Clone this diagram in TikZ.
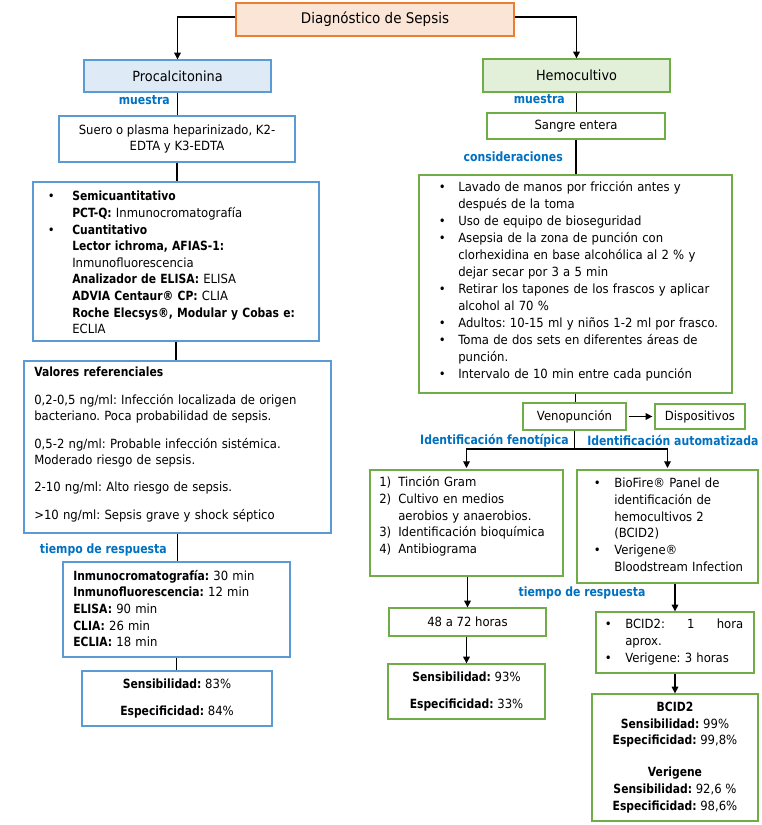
\documentclass[tikz,border=0pt]{standalone}
\usepackage{fontspec}
\setmainfont{DejaVu Sans}[FakeStretch=0.92, BoldFeatures={FakeStretch=0.85}]
\usetikzlibrary{arrows.meta}
\definecolor{orF}{HTML}{FBE5D6}
\definecolor{orB}{HTML}{ED7D31}
\definecolor{blF}{HTML}{DEEBF7}
\definecolor{blB}{HTML}{5B9BD5}
\definecolor{grF}{HTML}{E2F0D9}
\definecolor{grB}{HTML}{70AD47}
\definecolor{lblue}{HTML}{0070C0}
\def\px{0.75pt}
\newcommand{\myBody}[1]{\fontsize{9.5}{#1}\selectfont\frenchspacing}
\newcommand{\myLbl}{\fontsize{9.6}{11}\selectfont\bfseries}
\newcommand{\myTitle}{\fontsize{11}{13}\selectfont}
\newcommand{\myHead}{\fontsize{10.5}{13}\selectfont}
\newcommand{\bul}[1]{\leavevmode\llap{\makebox[#1][l]{\textbullet}}}
\newcommand{\num}[2]{\leavevmode\llap{\makebox[#1][l]{#2}}}
\begin{document}
\begin{tikzpicture}[x=0.75pt,y=-0.75pt,
  box/.style={draw, line width=1pt, inner sep=0pt, rectangle},
  bbox/.style={box, draw=blB},
  gbox/.style={box, draw=grB},
  conn/.style={line width=0.8pt, black},
  arr/.style={conn, -{Triangle[length=5pt,width=5pt]}},
  lbl/.style={font=\myLbl, text=lblue, inner sep=0pt},
  txt/.style={inner sep=0pt, align=left},
  ctxt/.style={align=center, font=\myBody{12.45pt}}
]
\useasboundingbox (0,0) rectangle (762,825);

% top level
\node[box, draw=orB, fill=orF, minimum width=278*\px, minimum height=33*\px, font=\myTitle] (title) at (375,19.5) {Diagnóstico de Sepsis};
\node[bbox, fill=blF, minimum width=187*\px, minimum height=32*\px, font=\myHead] (proc) at (177.5,76) {Procalcitonina};
\node[gbox, fill=grF, minimum width=187*\px, minimum height=33*\px, font=\myHead] (hemo) at (576.5,75.5) {Hemocultivo};
\draw[arr] ([yshift=1.9pt]title.west) -| (proc.north);
\draw[arr] ([yshift=1.9pt]title.east) -| (hemo.north);

% left column
\node[bbox, ctxt, minimum width=236*\px, minimum height=46*\px, font=\myBody{12pt}] (suero) at (177,139) {Suero o plasma heparinizado, K2-\\EDTA y K3-EDTA};

\node[bbox, minimum width=286*\px, minimum height=159*\px] (methods) at (176,261.5) {};
\node[txt, anchor=west, text width=260*\px, font=\myBody{12.45pt}] (methodsT) at (72,262.5) {%
\bul{18.3pt}\textbf{Semicuantitativo}\\
\textbf{PCT-Q:} Inmunocromatografía\\
\bul{18.3pt}\textbf{Cuantitativo}\\
\textbf{Lector ichroma, AFIAS-1:}\\
Inmunofluorescencia\\
\textbf{Analizador de ELISA:} ELISA\\
\textbf{ADVIA Centaur® CP:} CLIA\\
\textbf{Roche Elecsys®, Modular y Cobas e:}\\
ECLIA};

\node[bbox, minimum width=307*\px, minimum height=172*\px] (valores) at (177.5,447) {};
\node[txt, anchor=west, text width=295*\px, font=\myBody{12.2pt}] (valoresT) at (34,444.5) {%
\textbf{Valores referenciales}\\[8.6pt]
0,2-0,5 ng/ml: Infección localizada de origen\\
bacteriano. Poca probabilidad de sepsis.\\[8.6pt]
0,5-2 ng/ml: Probable infección sistémica.\\
Moderado riesgo de sepsis.\\[8.6pt]
2-10 ng/ml: Alto riesgo de sepsis.\\[8.6pt]
>10 ng/ml: Sepsis grave y shock séptico};

\node[bbox, minimum width=227*\px, minimum height=95*\px] (tiempoL) at (176.5,609.5) {};
\node[txt, anchor=west, text width=215*\px, font=\myBody{12.5pt}] (tiempoLT) at (73,608.5) {%
\textbf{Inmunocromatografía:} 30 min\\
\textbf{Inmunofluorescencia:} 12 min\\
\textbf{ELISA:} 90 min\\
\textbf{CLIA:} 26 min\\
\textbf{ECLIA:} 18 min};

\node[bbox, ctxt, minimum width=190*\px, minimum height=55*\px] (sensL) at (177,698.5) {\textbf{Sensibilidad:} 83\%\\[7.8pt]\textbf{Especificidad:} 84\%};

\draw[conn] (proc.south) -- (proc.south |- suero.north);
\draw[conn] (suero.south) -- (suero.south |- methods.north);
\draw[conn] (methods.south) -- (methods.south |- valores.north);
\draw[conn] (valores.south) -- (valores.south |- tiempoL.north);
\draw[conn] (tiempoL.south) -- (tiempoL.south |- sensL.north);

\node[lbl, anchor=base east] (mL) at (170,104) {muestra};
\node[lbl, anchor=base east] (tL) at (167,553) {tiempo de respuesta};

% right column
\node[gbox, ctxt, minimum width=178*\px, minimum height=26*\px] (sangre) at (576,126) {Sangre entera};

\node[gbox, minimum width=313*\px, minimum height=218*\px] (consid) at (575.5,284) {};
\node[txt, anchor=west, text width=272*\px, font=\myBody{12.75pt}] (considT) at (458,281.5) {%
\bul{14.5pt}Lavado de manos por fricción antes y\\
después de la toma\\
\bul{14.5pt}Uso de equipo de bioseguridad\\
\bul{14.5pt}Asepsia de la zona de punción con\\
clorhexidina en base alcohólica al 2 \% y\\
dejar secar por 3 a 5 min\\
\bul{14.5pt}Retirar los tapones de los frascos y aplicar\\
alcohol al 70 \%\\
\bul{14.5pt}Adultos: 10-15 ml y niños 1-2 ml por frasco.\\
\bul{14.5pt}Toma de dos sets en diferentes áreas de\\
punción.\\
\bul{14.5pt}Intervalo de 10 min entre cada punción};

\node[gbox, ctxt, minimum width=103*\px, minimum height=27*\px] (veno) at (574.5,416.5) {Venopunción};
\node[gbox, ctxt, minimum width=90*\px, minimum height=25*\px] (dispo) at (700,416.5) {Dispositivos};
\draw[arr, shorten <=1.5pt, shorten >=1.5pt] (veno.east) -- (dispo.west);

\node[gbox, minimum width=193*\px, minimum height=106*\px] (feno) at (466.5,523) {};
\node[txt, anchor=west, text width=165*\px, font=\myBody{12.5pt}] (fenoT) at (398,516.5) {%
\num{14.25pt}{1)}Tinción Gram\\
\num{14.25pt}{2)}Cultivo en medios\\
aerobios y anaerobios.\\
\num{14.25pt}{3)}Identificación bioquímica\\
\num{14.25pt}{4)}Antibiograma};

\node[gbox, minimum width=181*\px, minimum height=113*\px] (auto) at (667.5,526.5) {};
\node[txt, anchor=west, text width=142*\px, font=\myBody{12.5pt}] (autoT) at (614,524.8) {%
\bul{15.3pt}BioFire® Panel de\\
identificación de\\
hemocultivos 2\\
(BCID2)\\
\bul{15.3pt}Verigene®\\
Bloodstream Infection};

\coordinate (jn) at (veno.south |- 0,449);
\draw[conn] (veno.south) -- (jn);
\draw[arr, shorten >=1pt] (jn) -| (feno.north);
\draw[arr, shorten >=1pt] (jn) -| (auto.north);

\node[gbox, ctxt, minimum width=157*\px, minimum height=28*\px] (h4872) at (467.5,622) {48 a 72 horas};
\node[gbox, ctxt, minimum width=157*\px, minimum height=55*\px] (sensR) at (466.5,691.5) {\textbf{Sensibilidad:} 93\%\\[7.8pt]\textbf{Especificidad:} 33\%};

\node[gbox, minimum width=158*\px, minimum height=61*\px] (bcidT) at (675,642.5) {};
\node[txt, anchor=west, text width=125*\px, font=\myBody{12.6pt}] (bcidTT) at (625,642) {%
\bul{15.3pt}\makebox[88.5pt][l]{BCID2:\hfill 1\hfill hora}\\
aprox.\\
\bul{15.3pt}Verigene: 3 horas};

\node[gbox, ctxt, minimum width=166*\px, minimum height=127*\px] (final) at (675,757.5) {%
\textbf{BCID2}\\
\textbf{Sensibilidad:} 99\%\\
\textbf{Especificidad:} 99,8\%\\[11.5pt]
\textbf{Verigene}\\
\textbf{Sensibilidad:} 92,6 \%\\
\textbf{Especificidad:} 98,6\%};

\draw[conn] (hemo.south) -- (hemo.south |- sangre.north);
\draw[conn] (sangre.south) -- (sangre.south |- consid.north);
\draw[conn] (consid.south) -- (consid.south |- veno.north);
\draw[arr] (h4872.north |- feno.south) -- (h4872.north);
\draw[arr] (sensR.north |- h4872.south) -- (sensR.north);
\draw[arr] (bcidT.north |- auto.south) -- (bcidT.north);
\draw[arr] (final.north |- bcidT.south) -- (final.north);

\node[lbl, anchor=base east] (mR) at (565,103) {muestra};
\node[lbl, anchor=base east] (cons) at (563,161.5) {consideraciones};
\node[lbl, anchor=base east] (idF) at (569,444) {Identificación fenotípica};
\node[lbl, anchor=base west] (idA) at (587,445) {Identificación automatizada};
\node[lbl, anchor=base] (tR) at (582,596) {tiempo de respuesta};
\end{tikzpicture}
\end{document}
